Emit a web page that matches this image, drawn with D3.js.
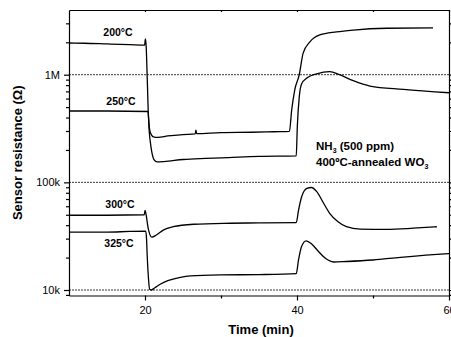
<!DOCTYPE html>
<html>
<head>
<meta charset="utf-8">
<script src="https://cdn.jsdelivr.net/npm/d3@7/dist/d3.min.js"></script>
<style>
  body { margin: 0; background: #fff; }
  svg { font-family: "Liberation Sans", Arial, sans-serif; }
</style>
</head>
<body>
<svg id="chart" width="451" height="337"></svg>
<script>
// time (min), resistance (ohm)
const s200 = [[10,1.97e6],[12,1.96e6],[15,1.93e6],[18,1.9e6],[19.95,1.88e6],[20.05,2.15e6],[20.15,1.86e6],
  [20.3,9e5],[20.45,4.2e5],[20.7,2.9e5],[21.1,2.65e5],[21.7,2.62e5],[23,2.7e5],[25,2.78e5],[26.6,2.82e5],
  [26.7,3.05e5],[26.8,2.84e5],[30,2.9e5],[34,2.92e5],[37,2.95e5],[39,2.97e5],[39.3,4.7e5],[39.7,7.2e5],
  [40.3,1.0e6],[40.8,1.58e6],[41.7,2.02e6],[43,2.34e6],[45.2,2.5e6],[47.4,2.6e6],[51.8,2.7e6],[57.9,2.72e6]];
const s250 = [[10,4.6e5],[15,4.6e5],[20.4,4.55e5],[20.55,3e5],[20.8,2.1e5],[21.2,1.62e5],[21.6,1.55e5],
  [22.5,1.56e5],[25,1.63e5],[28,1.67e5],[31,1.7e5],[35,1.74e5],[39.9,1.76e5],[40.04,3.29e5],[40.3,6.25e5],
  [40.6,8.2e5],[41.3,9.3e5],[42.6,1.02e6],[44.3,1.07e6],[45.6,1.0e6],[47.4,8.8e5],[49.6,7.85e5],[54,7.32e5],[60,6.8e5]];
const s300 = [[10,4.95e4],[15,4.95e4],[19.9,5.0e4],[20.0,5.5e4],[20.15,5.0e4],[20.4,3.8e4],[20.9,3.1e4],
  [21.5,3.24e4],[22.4,3.6e4],[23.7,3.87e4],[26.4,4.08e4],[31.2,4.17e4],[35,4.2e4],[39.9,4.23e4],[40.2,5.5e4],
  [40.6,7.3e4],[41.3,8.8e4],[41.9,8.96e4],[42.6,8.2e4],[43.5,6.4e4],[44.3,5.16e4],[45.4,4.3e4],[46.5,3.87e4],
  [48.3,3.68e4],[51.8,3.66e4],[55.3,3.75e4],[58.4,3.87e4]];
const s325 = [[10,3.45e4],[15,3.45e4],[18,3.5e4],[20.1,3.52e4],[20.2,3e4],[20.3,2e4],[20.45,1.3e4],[20.6,1.02e4],
  [20.8,1.0e4],[21.3,1.05e4],[22,1.13e4],[23,1.22e4],[24.5,1.3e4],[26,1.35e4],[30,1.38e4],[35,1.39e4],[39.9,1.42e4],
  [40.2,1.9e4],[40.6,2.53e4],[41.2,2.86e4],[41.9,2.69e4],[42.8,2.29e4],[43.7,1.98e4],[44.8,1.82e4],[46.5,1.84e4],
  [50,1.9e4],[53.6,2.01e4],[57.9,2.13e4],[60,2.18e4]];

const series = [s200, s250, s300, s325];
const seriesLabels = ["200°C", "250°C", "300°C", "325°C"];
const labelPos = [[118, 36], [121, 105], [120, 208], [119, 247]];

const xMajor = [20, 40, 60];
const xMinor = [30, 50];
const yMajor = [1e4, 1e5, 1e6];
const yMajorLabels = ["10k", "100k", "1M"];
const gridValues = [1e4, 1e5, 1e6];

const L = 69, R = 449, T = 10, B = 295.5;
const decade = (290 - 74.7) / 2;

const x = d3.scaleLinear().domain([10, 60]).range([L, R]);
const y = d3.scaleLog()
  .domain([Math.pow(10, 4 - (B - 290) / decade), Math.pow(10, 6 + (74.7 - T) / decade)])
  .range([B, T]);

const yMinor = [];
[1e3, 1e4, 1e5, 1e6].forEach(d => {
  for (let k = 2; k <= 9; k++) {
    const v = d * k;
    if (v > y.domain()[0] && v < y.domain()[1]) yMinor.push(v);
  }
});

const svg = d3.select("#chart");

// dotted gridlines
svg.append("g").selectAll("line").data(gridValues).enter().append("line")
  .attr("x1", L).attr("x2", R)
  .attr("y1", d => y(d)).attr("y2", d => y(d))
  .attr("stroke", "#222").attr("stroke-width", 0.9).attr("stroke-dasharray", "2,1");

// axes
function styleAxis(g) {
  g.selectAll("path, line").attr("stroke", "#000").attr("stroke-width", 1.2);
  g.selectAll("text").attr("fill", "#000").attr("font-size", 11);
}

svg.append("g").attr("transform", `translate(0,${B})`)
  .call(d3.axisBottom(x).tickValues(xMajor).tickSize(5).tickSizeOuter(0).tickPadding(6).tickFormat(d3.format("d")))
  .call(styleAxis);
svg.append("g").attr("transform", `translate(0,${B})`)
  .call(d3.axisBottom(x).tickValues(xMinor).tickSize(3).tickSizeOuter(0).tickFormat(""))
  .call(styleAxis).select(".domain").remove();

svg.append("g").attr("transform", `translate(0,${T})`)
  .call(d3.axisTop(x).tickValues(xMajor.concat(xMinor)).tickSize(-2).tickSizeOuter(0).tickFormat(""))
  .call(styleAxis);

svg.append("g").attr("transform", `translate(${L},0)`)
  .call(d3.axisLeft(y).tickValues(yMajor).tickSize(5).tickSizeOuter(0).tickPadding(4)
    .tickFormat((d, i) => yMajorLabels[i]))
  .call(styleAxis);
svg.append("g").attr("transform", `translate(${L},0)`)
  .call(d3.axisLeft(y).tickValues(yMinor).tickSize(3).tickSizeOuter(0).tickFormat(""))
  .call(styleAxis).select(".domain").remove();

svg.append("g").attr("transform", `translate(${R},0)`)
  .call(d3.axisRight(y).tickValues(yMajor.concat(yMinor)).tickSize(3).tickSizeOuter(0).tickFormat(""))
  .call(styleAxis);

// curves
const line = d3.line()
  .x(d => x(d[0]))
  .y(d => y(d[1]))
  .curve(d3.curveMonotoneX);

svg.append("g").selectAll("path").data(series).enter().append("path")
  .attr("d", line)
  .attr("fill", "none")
  .attr("stroke", "#000")
  .attr("stroke-width", 1.3);

// series labels
svg.append("g").selectAll("text").data(seriesLabels).enter().append("text")
  .attr("x", (d, i) => labelPos[i][0])
  .attr("y", (d, i) => labelPos[i][1])
  .attr("text-anchor", "middle")
  .attr("font-size", 10.5)
  .attr("font-weight", "bold")
  .text(d => d);

// annotation
const ann = svg.append("text").attr("x", 316).attr("y", 150)
  .attr("font-size", 11.5).attr("font-weight", "bold");
ann.append("tspan").text("NH");
ann.append("tspan").attr("font-size", 7).attr("dy", 3).text("3");
ann.append("tspan").attr("dy", -3).text(" (500 ppm)");

const ann2 = svg.append("text").attr("x", 316).attr("y", 166)
  .attr("font-size", 11.5).attr("font-weight", "bold");
ann2.append("tspan").text("400ºC-annealed WO");
ann2.append("tspan").attr("font-size", 7).attr("dy", 3).text("3");

// axis titles
svg.append("text")
  .attr("x", 261).attr("y", 334)
  .attr("text-anchor", "middle")
  .attr("font-size", 13).attr("font-weight", "bold")
  .text("Time (min)");

svg.append("text")
  .attr("transform", `translate(22,${(T + B) / 2}) rotate(-90)`)
  .attr("text-anchor", "middle")
  .attr("font-size", 13).attr("font-weight", "bold")
  .text("Sensor resistance (Ω)");
</script>
</body>
</html>
